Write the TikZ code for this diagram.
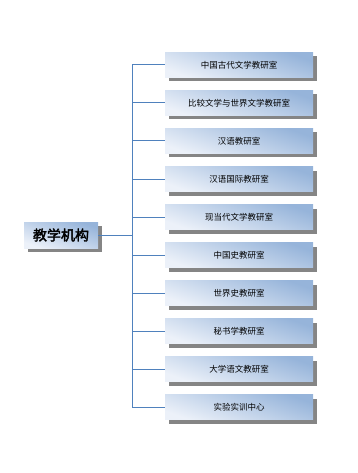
\documentclass[tikz,border=0pt]{standalone}
\usepackage{fontspec}
\setmainfont{Noto Sans CJK SC}
\newfontfamily\cjkbold[FakeBold=2.5]{Noto Sans CJK SC}
\usetikzlibrary{shadows}
\definecolor{linkblue}{RGB}{79,129,189}
\definecolor{boxdark}{RGB}{150,180,218}
\definecolor{boxlight}{RGB}{236,241,249}
\tikzset{
  deptbox/.style={shade,left color=boxdark,right color=boxlight,shading angle=-20,
    minimum width=148pt,minimum height=25pt,inner sep=0pt,font=\fontsize{8.5pt}{9pt}\selectfont,
    drop shadow={shadow xshift=3.5pt,shadow yshift=-4pt,fill=black!48,opacity=1}},
  rootbox/.style={deptbox,minimum width=74pt,minimum height=26pt,font=\cjkbold\fontsize{14pt}{15pt}\selectfont},
  link/.style={draw=linkblue,line width=1pt}
}
\begin{document}
\begin{tikzpicture}[x=1pt,y=1pt]
\useasboundingbox (0,0) rectangle (357,-473);
\node[rootbox] (root) at (61,-235) {教学机构};
\coordinate (jtop) at (132,-65);
\coordinate (jbot) at (132,-407);
\coordinate (jmid) at (132,-235);
\draw[link] (root.east)--(jmid);
\draw[link] (jtop)--(jbot);
\foreach \name [count=\i from 0] in {中国古代文学教研室,比较文学与世界文学教研室,汉语教研室,汉语国际教研室,现当代文学教研室,中国史教研室,世界史教研室,秘书学教研室,大学语文教研室,实验实训中心}{
  \node[deptbox] (d\i) at (239,-65-38*\i) {\name};
  \coordinate (j\i) at (132,-65-38*\i);
  \draw[link] (j\i)--(d\i.west);
}
\end{tikzpicture}
\end{document}
